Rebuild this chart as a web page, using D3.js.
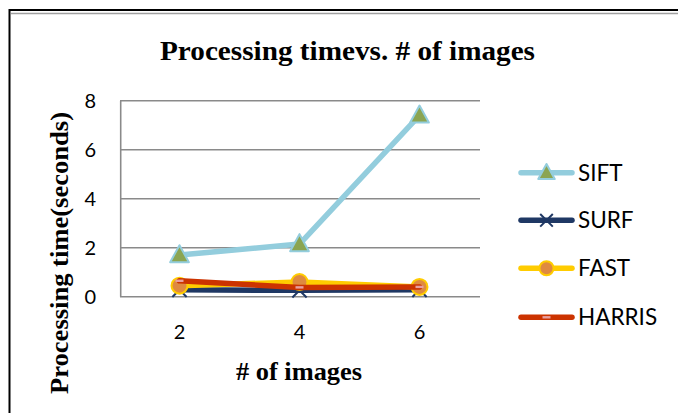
<!DOCTYPE html>
<html>
<head>
<meta charset="utf-8">
<script src="https://cdn.jsdelivr.net/npm/d3@7"></script>
<style>
  html, body { margin: 0; padding: 0; background: #fff; }
  svg { display: block; }
</style>
</head>
<body>
<svg id="chart" width="678" height="413"></svg>
<script>
// Number of images processed
const categories = ["2", "4", "6"];
// Processing time in seconds per detector
const sift   = [1.7, 2.15, 7.4];
const surf   = [0.28, 0.26, 0.28];
const fast   = [0.45, 0.6, 0.4];
const harris = [0.65, 0.38, 0.4];
const yTicks = [0, 2, 4, 6, 8];

const seriesNames = ["SIFT", "SURF", "FAST", "HARRIS"];
const seriesValues = [sift, surf, fast, harris];

const svg = d3.select("#chart");

// frame lines around the chart
svg.append("line").attr("x1", 9).attr("x2", 678).attr("y1", 10).attr("y2", 10)
  .attr("stroke", "#000").attr("stroke-width", 2);
svg.append("line").attr("x1", 11).attr("x2", 678).attr("y1", 13.5).attr("y2", 13.5)
  .attr("stroke", "#a0a0a0").attr("stroke-width", 1.5);
svg.append("line").attr("x1", 9.5).attr("x2", 9.5).attr("y1", 9).attr("y2", 413)
  .attr("stroke", "#000").attr("stroke-width", 2);

const x = d3.scalePoint().domain(categories).range([119.5, 479.5]).padding(0.5);
const y = d3.scaleLinear().domain([0, 8]).range([296.7, 100.7]);

// horizontal gridlines
svg.append("g").selectAll("line").data(yTicks).join("line")
  .attr("x1", 120).attr("x2", 480)
  .attr("y1", d => y(d)).attr("y2", d => y(d))
  .attr("stroke", "#8a8a8a").attr("stroke-width", 1.6);

// left axis line
svg.append("line").attr("x1", 120.7).attr("x2", 120.7)
  .attr("y1", y(8)).attr("y2", y(0))
  .attr("stroke", "#8a8a8a").attr("stroke-width", 1.6);

const sans = "Lato, 'Open Sans', sans-serif";

// y tick labels
svg.append("g").selectAll("text").data(yTicks).join("text")
  .attr("x", 96).attr("y", d => y(d)).attr("dy", "0.36em")
  .attr("text-anchor", "end")
  .attr("font-family", sans).attr("font-size", 20)
  .attr("fill", "#000")
  .text(d => d);

// x tick labels
svg.append("g").selectAll("text").data(categories).join("text")
  .attr("x", d => x(d)).attr("y", 339)
  .attr("text-anchor", "middle")
  .attr("font-family", sans).attr("font-size", 20)
  .attr("fill", "#000")
  .text(d => d);

// titles
svg.append("text").attr("x", 160).attr("y", 60)
  .attr("font-family", "'Liberation Serif', 'Times New Roman', serif")
  .attr("font-weight", "bold").attr("font-size", 26.5)
  .attr("textLength", 375).attr("lengthAdjust", "spacingAndGlyphs")
  .text("Processing timevs. # of images");

svg.append("text").attr("x", 236).attr("y", 380)
  .attr("font-family", "'Liberation Serif', 'Times New Roman', serif")
  .attr("font-weight", "bold").attr("font-size", 25)
  .attr("textLength", 126).attr("lengthAdjust", "spacingAndGlyphs")
  .text("# of images");

svg.append("text")
  .attr("transform", "translate(68,394) rotate(-90)")
  .attr("font-family", "'Liberation Serif', 'Times New Roman', serif")
  .attr("font-weight", "bold").attr("font-size", 26)
  .attr("textLength", 282).attr("lengthAdjust", "spacingAndGlyphs")
  .text("Processing time(seconds)");

// series styles
const styles = {
  SIFT:   { line: "#93cddd", marker: "triangle" },
  SURF:   { line: "#1f3864", marker: "cross" },
  FAST:   { line: "#ffcc00", marker: "circle" },
  HARRIS: { line: "#cc3300", marker: "dash" }
};

function drawMarker(g, type, cx, cy, s) {
  if (type === "triangle") {
    const h = s;
    g.append("path")
      .attr("d", `M${cx},${cy - h * 0.58} L${cx + s * 0.55},${cy + h * 0.42} L${cx - s * 0.55},${cy + h * 0.42} Z`)
      .attr("fill", "#8ba552").attr("stroke", "#93cddd").attr("stroke-width", 2)
      .attr("stroke-linejoin", "round");
  } else if (type === "cross") {
    const r = s * 0.42;
    g.append("path")
      .attr("d", `M${cx - r},${cy - r} L${cx + r},${cy + r} M${cx - r},${cy + r} L${cx + r},${cy - r}`)
      .attr("stroke", "#1f3864").attr("stroke-width", 2).attr("fill", "none");
  } else if (type === "circle") {
    g.append("circle").attr("cx", cx).attr("cy", cy).attr("r", s * 0.47)
      .attr("fill", "#df8a40").attr("stroke", "#ffcc00").attr("stroke-width", 2);
  } else if (type === "dash") {
    g.append("rect").attr("x", cx - 4).attr("y", cy - 1.2).attr("width", 8).attr("height", 2.4)
      .attr("fill", "#e8a0a0");
  }
}

const line = d3.line().x((d, i) => x(categories[i])).y(d => y(d));

seriesNames.forEach((name, si) => {
  const st = styles[name];
  const g = svg.append("g");
  g.append("path").datum(seriesValues[si])
    .attr("d", line)
    .attr("fill", "none").attr("stroke", st.line).attr("stroke-width", 5.5)
    .attr("stroke-linejoin", "round").attr("stroke-linecap", "round");
  seriesValues[si].forEach((v, i) => drawMarker(g, st.marker, x(categories[i]), y(v), 17));
});

// legend
const legendY = [172.7, 220.3, 268.3, 317.3];
seriesNames.forEach((name, si) => {
  const st = styles[name];
  const g = svg.append("g");
  const ly = legendY[si];
  g.append("line").attr("x1", 521).attr("x2", 572).attr("y1", ly).attr("y2", ly)
    .attr("stroke", st.line).attr("stroke-width", 5.5).attr("stroke-linecap", "round");
  drawMarker(g, st.marker, 546.5, ly, 15);
  g.append("text").attr("x", 578).attr("y", ly).attr("dy", "0.36em")
    .attr("font-family", sans).attr("font-size", 22.5)
    .attr("fill", "#000")
    .text(name);
});
</script>
</body>
</html>
